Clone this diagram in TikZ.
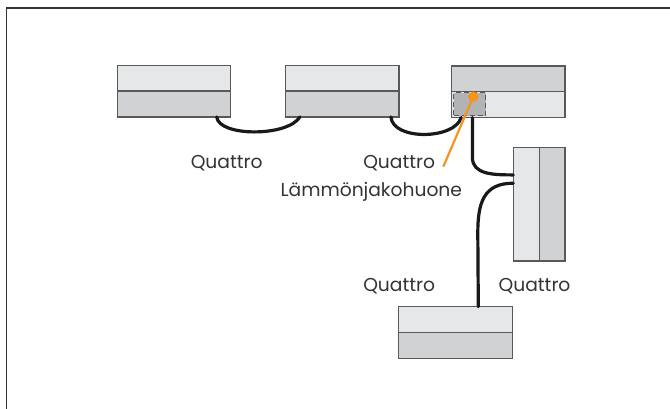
\documentclass[tikz,border=0pt]{standalone}
\usepackage{fontspec}
\setmainfont{Poppins}
\usetikzlibrary{calc}
\definecolor{lightg}{HTML}{E6E7E8}
\definecolor{darkg}{HTML}{D1D2D4}
\definecolor{edgeg}{HTML}{58595B}
\definecolor{roomg}{HTML}{B1B3B6}
\definecolor{orng}{HTML}{F7941D}
\definecolor{txt}{HTML}{333333}
\begin{document}
\begin{tikzpicture}[x=1pt,y=-1pt,
  half/.style={draw=edgeg,line width=1.3pt,inner sep=0pt,outer sep=0pt,rectangle},
  lt/.style={half,fill=lightg},
  dk/.style={half,fill=darkg},
  cable/.style={line width=3.2pt,black!90,line cap=round},
  lbl/.style={text=txt,font=\fontsize{18.7}{21}\selectfont,inner sep=0pt,anchor=base}]
\useasboundingbox (0,0) rectangle (670,408);
\begin{scope}
\clip (0,0) rectangle (670,408);
\draw[line width=1.8pt,black!80] (6.5,420) -- (6.5,8) -- (680,8);
\end{scope}
% box 1
\node[lt,minimum width=113.4pt,minimum height=25.8pt] (b1t) at (174,78.2) {};
\node[dk,minimum width=113.4pt,minimum height=25.8pt] (b1b) at (174,104) {};
% box 2
\node[lt,minimum width=113.4pt,minimum height=25.8pt] (b2t) at (342.3,78.2) {};
\node[dk,minimum width=113.4pt,minimum height=25.8pt] (b2b) at (342.3,104) {};
% box 3
\node[dk,minimum width=113.4pt,minimum height=25.8pt] (b3t) at (508.3,78.8) {};
\node[lt,minimum width=113.4pt,minimum height=25.8pt] (b3b) at (508.3,104.6) {};
\node[draw=edgeg,dashed,dash pattern=on 5pt off 3pt,line width=1.3pt,fill=roomg,minimum width=32pt,minimum height=23pt,inner sep=0pt] (room) at (469.5,104) {};
% box 4 (vertical)
\node[lt,minimum width=26pt,minimum height=113.4pt] (b4l) at (526.3,204.3) {};
\node[dk,minimum width=25.7pt,minimum height=113.4pt] (b4r) at (552.2,204.3) {};
% box 5
\node[lt,minimum width=113.6pt,minimum height=25.8pt] (b5t) at (455.5,319.6) {};
\node[dk,minimum width=113.6pt,minimum height=25.8pt] (b5b) at (455.5,345.4) {};
% cables
\draw[cable] ($(b1b.south west)+(99.4,0)$) .. controls +(2,20) and +(-12,20) .. ($(b2b.south west)+(14.3,0)$);
\draw[cable] ($(b2b.south west)+(105.3,0)$) .. controls +(2,24) and +(-6,22) .. ($(b3b.south west)+(9.5,0)$);
\draw[cable] ($(b3b.south west)+(20.8,0)$) -- ++(0,40) .. controls +(0,17) and +(-20,0) .. ($(b4l.north west)+(0,27.3)$);
\draw[cable] ($(b4l.north west)+(0,35.6)$) .. controls +(-30,0) and +(0,-30) .. ++(-35.5,50) -- ($(b5t.north west)+(79.6,0)$);
% orange pointer
\coordinate (ptr) at (443.3,166.7);
\fill[orng] (473.3,96.7) circle (5.2pt);
\draw[orng,line width=2.2pt] (473.3,96.7) -- (ptr);
% labels
\node[lbl] (q1) at (226.7,168.3) {Quattro};
\node[lbl] (q2) at (399.2,168.3) {Quattro};
\node[lbl] (lj) at (371.3,196.7) {Lämmönjakohuone};
\node[lbl] (q3) at (399.2,291.7) {Quattro};
\node[lbl] (q4) at (534.5,291.7) {Quattro};
\end{tikzpicture}
\end{document}
